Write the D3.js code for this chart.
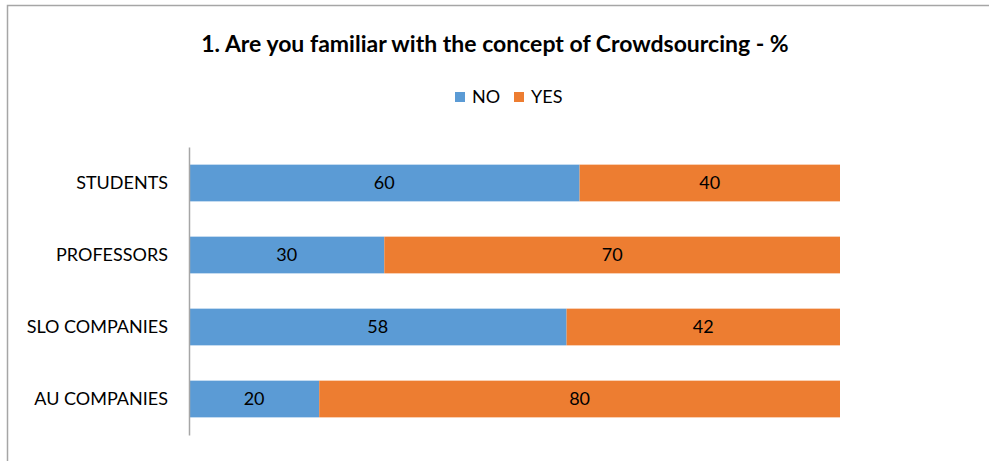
<!DOCTYPE html>
<html>
<head>
<meta charset="utf-8">
<script src="https://cdn.jsdelivr.net/npm/d3@7"></script>
<style>
  body { margin: 0; background: #fff; }
  svg text { font-family: Lato, "Open Sans", sans-serif; fill: #000; }
</style>
</head>
<body>
<div id="chart"></div>
<script>
// data
var categories = ["STUDENTS", "PROFESSORS", "SLO COMPANIES", "AU COMPANIES"];
var noValues = [60, 30, 58, 20];
var yesValues = [40, 70, 42, 80];
var seriesNames = ["NO", "YES"];
var colors = ["#5B9BD5", "#ED7D31"];

var width = 989, height = 461;
var svg = d3.select("#chart").append("svg")
    .attr("width", width)
    .attr("height", height);

// chart border (only top and left edges visible)
svg.append("path")
    .attr("d", "M7.5,461 L7.5,5.5 L989,5.5")
    .attr("fill", "none")
    .attr("stroke", "#a6a6a6")
    .attr("stroke-width", 1.5);

// title
svg.append("text")
    .attr("x", 495)
    .attr("y", 52)
    .attr("text-anchor", "middle")
    .style("font-size", "23px")
    .style("font-weight", "bold")
    .text("1. Are you familiar with the concept of Crowdsourcing - %");

// legend
var legend = svg.append("g").attr("transform", "translate(455,92)");
var legendX = [0, 59];
seriesNames.forEach(function (name, i) {
    legend.append("rect")
        .attr("x", legendX[i]).attr("y", 0)
        .attr("width", 10).attr("height", 10)
        .attr("fill", colors[i]);
    legend.append("text")
        .attr("x", legendX[i] + 17).attr("y", 11)
        .style("font-size", "18px")
        .text(name);
});

// scales
var x = d3.scaleLinear().domain([0, 100]).range([189, 840]);
var y = d3.scaleBand().domain(categories).range([147, 435]).paddingInner(0.49).paddingOuter(0.245);

// stacked data
var rows = categories.map(function (c, i) {
    return { cat: c, NO: noValues[i], YES: yesValues[i] };
});
var stacked = d3.stack().keys(seriesNames)(rows);

var groups = svg.selectAll("g.series")
    .data(stacked)
    .enter().append("g")
    .attr("class", "series")
    .attr("fill", function (d, i) { return colors[i]; });

groups.selectAll("rect")
    .data(function (d) { return d; })
    .enter().append("rect")
    .attr("x", function (d) { return x(d[0]); })
    .attr("y", function (d) { return y(d.data.cat); })
    .attr("width", function (d) { return x(d[1]) - x(d[0]); })
    .attr("height", y.bandwidth());

groups.selectAll("text")
    .data(function (d) { return d; })
    .enter().append("text")
    .attr("x", function (d) { return (x(d[0]) + x(d[1])) / 2; })
    .attr("y", function (d) { return y(d.data.cat) + y.bandwidth() / 2; })
    .attr("dy", "0.36em")
    .attr("text-anchor", "middle")
    .style("font-size", "18px")
    .text(function (d) { return d[1] - d[0]; });

// y axis
var yAxis = svg.append("g")
    .attr("transform", "translate(189,0)")
    .call(d3.axisLeft(y).tickSize(0).tickPadding(21));
yAxis.select(".domain").attr("stroke", "#a6a6a6").attr("stroke-width", 1.5);
yAxis.selectAll("text").style("font-size", "18px");
</script>
</body>
</html>
